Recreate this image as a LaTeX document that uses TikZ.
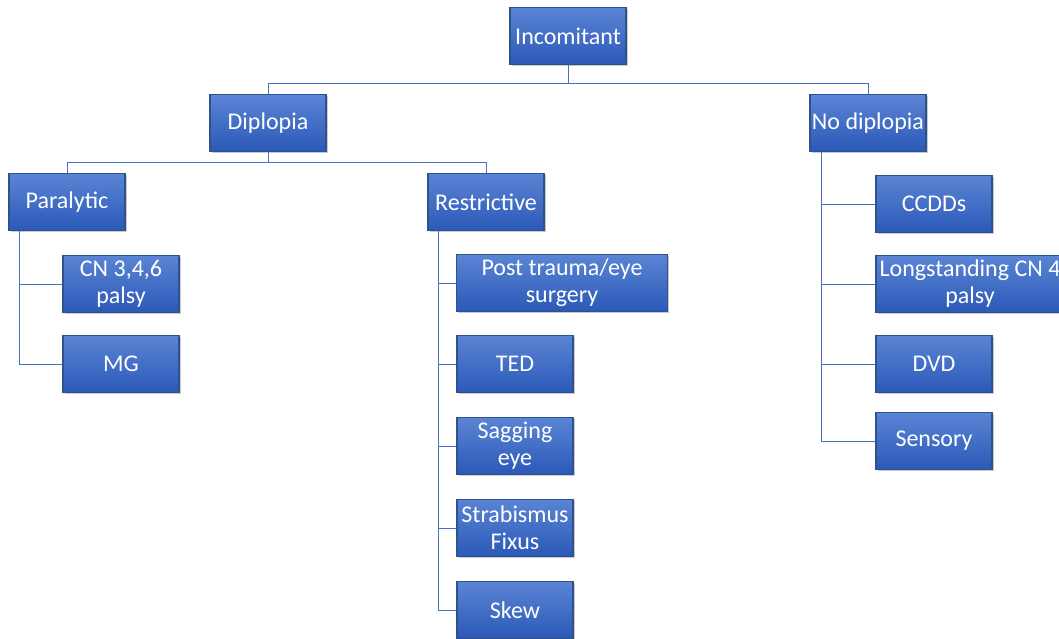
\documentclass[tikz,border=0pt]{standalone}
\usepackage{fontspec}
\setmainfont{Carlito}
\usetikzlibrary{shadows}
\definecolor{topc}{HTML}{5A84D4}
\definecolor{botc}{HTML}{2B59B8}
\definecolor{bdr}{HTML}{2F528F}
\definecolor{linec}{HTML}{4472C4}
\begin{document}
\begin{tikzpicture}[x=1pt,y=-1pt,
  box/.style={draw=bdr, line width=1.2pt, top color=topc, bottom color=botc,
    text=white, font=\fontsize{24}{27}\selectfont, align=center,
    minimum width=116pt, minimum height=57pt, inner sep=1pt,
    drop shadow={shadow xshift=1.5pt, shadow yshift=-1.5pt, opacity=0.35, fill=black!60}},
  conn/.style={draw=linec, line width=1pt}]
\useasboundingbox (0,0) rectangle (1059,639);
\node[box] (inc) at (568,36) {Incomitant};
\node[box] (dip) at (268,123) {Diplopia};
\node[box] (nod) at (868,123) {No diplopia};
\node[box] (par) at (67,202) {Paralytic};
\node[box] (res) at (486,202) {Restrictive};
\node[box] (cn) at (121,284) {CN 3,4,6\\palsy};
\node[box] (mg) at (121,364) {MG};
\node[box, minimum width=211pt] (pt) at (562,283) {Post trauma/eye\\surgery};
\node[box] (ted) at (515,364) {TED};
\node[box] (sag) at (515,446) {Sagging\\eye};
\node[box] (fix) at (515,528) {Strabismus\\Fixus};
\node[box] (skew) at (515,610) {Skew};
\node[box] (cc) at (934,204) {CCDDs};
\node[box, minimum width=188pt] (ls) at (970,284) {Longstanding CN 4\\palsy};
\node[box] (dvd) at (934,364) {DVD};
\node[box] (sen) at (934,441) {Sensory};
% connectors
\draw[conn] (inc.south) -- ++(0,18) -| (dip.north);
\draw[conn] (inc.south) -- ++(0,18) -| (nod.north);
\draw[conn] (dip.south) -- ++(0,10) -| (par.north);
\draw[conn] (dip.south) -- ++(0,10) -| (res.north);
\draw[conn] (par.south west) ++(11,0) |- (cn.west);
\draw[conn] (par.south west) ++(11,0) |- (mg.west);
\foreach \n in {pt,ted,sag,fix,skew}
  \draw[conn] (res.south west) ++(11,0) |- (\n.west);
\foreach \n in {cc,ls,dvd,sen}
  \draw[conn] (nod.south west) ++(12,0) |- (\n.west);
\end{tikzpicture}
\end{document}
